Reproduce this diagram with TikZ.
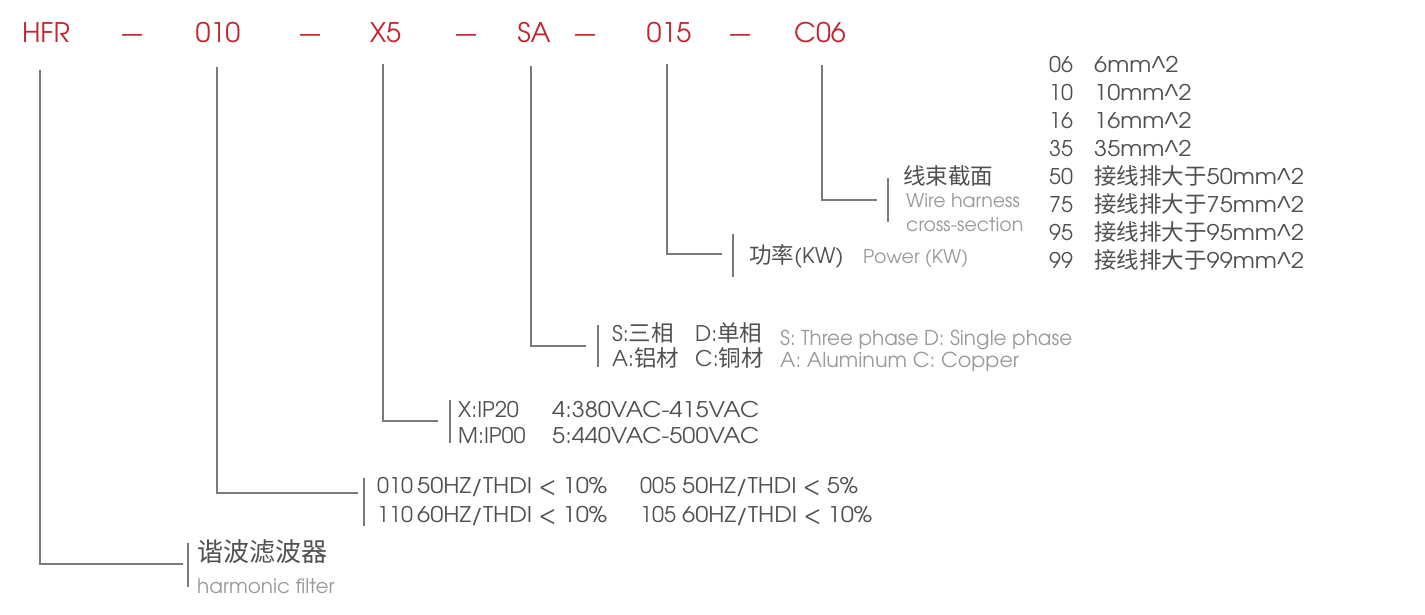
\documentclass[tikz,border=0pt]{standalone}
\usepackage{fontspec}
\usepackage{graphicx}
\setmainfont{TeX Gyre Adventor}
\newfontfamily\cjk{Noto Sans CJK SC}
\definecolor{codered}{HTML}{C1272D}
\definecolor{txtdark}{HTML}{505050}
\definecolor{txtlight}{HTML}{9A9A9A}
\definecolor{linegray}{HTML}{7A7A7A}
\newcommand\fitx[2]{\resizebox{#1pt}{\height}{#2}}
\newcommand\sxx[2]{\scalebox{#1}[1]{#2}}
\begin{document}
\begin{tikzpicture}[x=1pt,y=-1pt]
\useasboundingbox[fill=white] (0,0) rectangle (1425,614);
\tikzset{
  code/.style={text=codered, font=\fontsize{27}{27}\selectfont, anchor=base, inner sep=0pt},
  reddash/.style={text=codered, font=\fontsize{27}{27}\selectfont, anchor=base, inner sep=0pt},
  dark/.style={text=txtdark, font=\fontsize{21.6}{22}\selectfont, anchor=base west, inner sep=0pt},
  cjkdark/.style={text=txtdark, font=\cjk\fontsize{22.5}{23}\selectfont, anchor=base west, inner sep=0pt},
  light/.style={text=txtlight, font=\fontsize{19}{20}\selectfont, anchor=base west, inner sep=0pt},
  conn/.style={draw=linegray, line width=1.4pt},
  sepbar/.style={draw=linegray, line width=1.4pt},
}
% ---- code row ----
\node[code] (hfr) at (46,42) {HFR};
\node[reddash] (d1) at (132,42) {\fitx{20}{–}};
\node[code] (c010) at (218,42) {010};
\node[reddash] (d2) at (310,42) {\fitx{20}{–}};
\node[code] (cx5) at (385.5,42) {X5};
\node[reddash] (d3) at (466,42) {\fitx{20}{–}};
\node[code] (csa) at (534,42) {SA};
\node[reddash] (d4) at (585,42) {\fitx{20}{–}};
\node[code] (c015) at (669,42) {015};
\node[reddash] (d5) at (740,42) {\fitx{20}{–}};
\node[code] (cc06) at (820,42) {C06};

% ---- connectors ----
\coordinate (t1) at (40,70);   \coordinate (e1) at (183,564);
\coordinate (t2) at (217,67);  \coordinate (e2) at (358,493);
\coordinate (t3) at (383,64);  \coordinate (e3) at (438,421);
\coordinate (t4) at (531,66);  \coordinate (e4) at (586,346);
\coordinate (t5) at (667,64);  \coordinate (e5) at (722,254);
\coordinate (t6) at (822,65);  \coordinate (e6) at (877,200);
\draw[conn] (t1) |- (e1);
\draw[conn] (t2) |- (e2);
\draw[conn] (t3) |- (e3);
\draw[conn] (t4) |- (e4);
\draw[conn] (t5) |- (e5);
\draw[conn] (t6) |- (e6);

% ---- separator bars ----
\coordinate (b1a) at (188,543); \coordinate (b1b) at (188,587);
\coordinate (b2a) at (364,478); \coordinate (b2b) at (364,526);
\coordinate (b3a) at (450,400); \coordinate (b3b) at (450,443);
\coordinate (b4a) at (598,325); \coordinate (b4b) at (598,367);
\coordinate (b5a) at (733,234); \coordinate (b5b) at (733,277);
\coordinate (b6a) at (888,178); \coordinate (b6b) at (888,222);
\draw[sepbar] (b1a) -- (b1b);
\draw[sepbar] (b2a) -- (b2b);
\draw[sepbar] (b3a) -- (b3b);
\draw[sepbar] (b4a) -- (b4b);
\draw[sepbar] (b5a) -- (b5b);
\draw[sepbar] (b6a) -- (b6b);

% ---- HFR: harmonic filter ----
\node[cjkdark, font=\cjk\fontsize{26}{27}\selectfont] (hf1) at (197,561) {谐波滤波器};
\node[light, font=\fontsize{20}{20}\selectfont] (hf2) at (197,593) {harmonic filter};

% ---- 010 ----
\node[dark] (r1a) at (377,493) {010};
\node[dark] (r1b) at (417,493) {\fitx{190}{50HZ/THDI < 10\%}};
\node[dark] (r1c) at (640,493) {005};
\node[dark] (r1d) at (682,493) {\fitx{176}{50HZ/THDI < 5\%}};
\node[dark] (r2a) at (377,522) {110};
\node[dark] (r2b) at (417,522) {\fitx{190}{60HZ/THDI < 10\%}};
\node[dark] (r2c) at (640,522) {105};
\node[dark] (r2d) at (682,522) {\fitx{190}{60HZ/THDI < 10\%}};

% ---- X5 ----
\node[dark] (x1a) at (458,417) {X:IP20};
\node[dark] (x1b) at (552,417) {\fitx{207}{4:380VAC-415VAC}};
\node[dark] (x2a) at (458,443) {M:IP00};
\node[dark] (x2b) at (552,443) {\fitx{207}{5:440VAC-500VAC}};

% ---- SA ----
\node[dark] (s1a) at (612,341) {S:{\cjk\fontsize{22.5}{23}\selectfont 三相}};
\node[dark] (s1b) at (695,341) {D:{\cjk\fontsize{22.5}{23}\selectfont 单相}};
\node[dark] (s2a) at (612,366) {A:{\cjk\fontsize{22.5}{23}\selectfont 铝材}};
\node[dark] (s2b) at (695,366) {C:{\cjk\fontsize{22.5}{23}\selectfont 铜材}};
\node[light, font=\fontsize{20.5}{21}\selectfont] (s1e) at (780,345) {\fitx{292}{S: Three phase D: Single phase}};
\node[light, font=\fontsize{20.5}{21}\selectfont] (s2e) at (780,367) {\fitx{239}{A: Aluminum C: Copper}};

% ---- 015 ----
\node[dark] (p1) at (749,263) {{\cjk\fontsize{22.5}{23}\selectfont 功率}(KW)};
\node[light] (p2) at (863,263) {Power (KW)};

% ---- C06 ----
\node[cjkdark] (w1) at (903,184) {线束截面};
\node[light] (w2) at (906,207) {Wire harness};
\node[light] (w3) at (906,231) {cross-section};

% ---- wire list ----
\foreach \k/\c [count=\i from 0] in {
  06/{\sxx{1.09}{6mm\textasciicircum2}},
  10/{\sxx{1.09}{10mm\textasciicircum2}},
  16/{\sxx{1.09}{16mm\textasciicircum2}},
  35/{\sxx{1.09}{35mm\textasciicircum2}},
  50/{{\cjk\fontsize{22.5}{23}\selectfont 接线排大于}\sxx{1.09}{50mm\textasciicircum2}},
  75/{{\cjk\fontsize{22.5}{23}\selectfont 接线排大于}\sxx{1.09}{75mm\textasciicircum2}},
  95/{{\cjk\fontsize{22.5}{23}\selectfont 接线排大于}\sxx{1.09}{95mm\textasciicircum2}},
  99/{{\cjk\fontsize{22.5}{23}\selectfont 接线排大于}\sxx{1.09}{99mm\textasciicircum2}}} {
  \node[dark] (k\i) at (1049,72+28*\i) {\k};
  \node[dark] (v\i) at (1094,72+28*\i) {\c};
}
\end{tikzpicture}
\end{document}
